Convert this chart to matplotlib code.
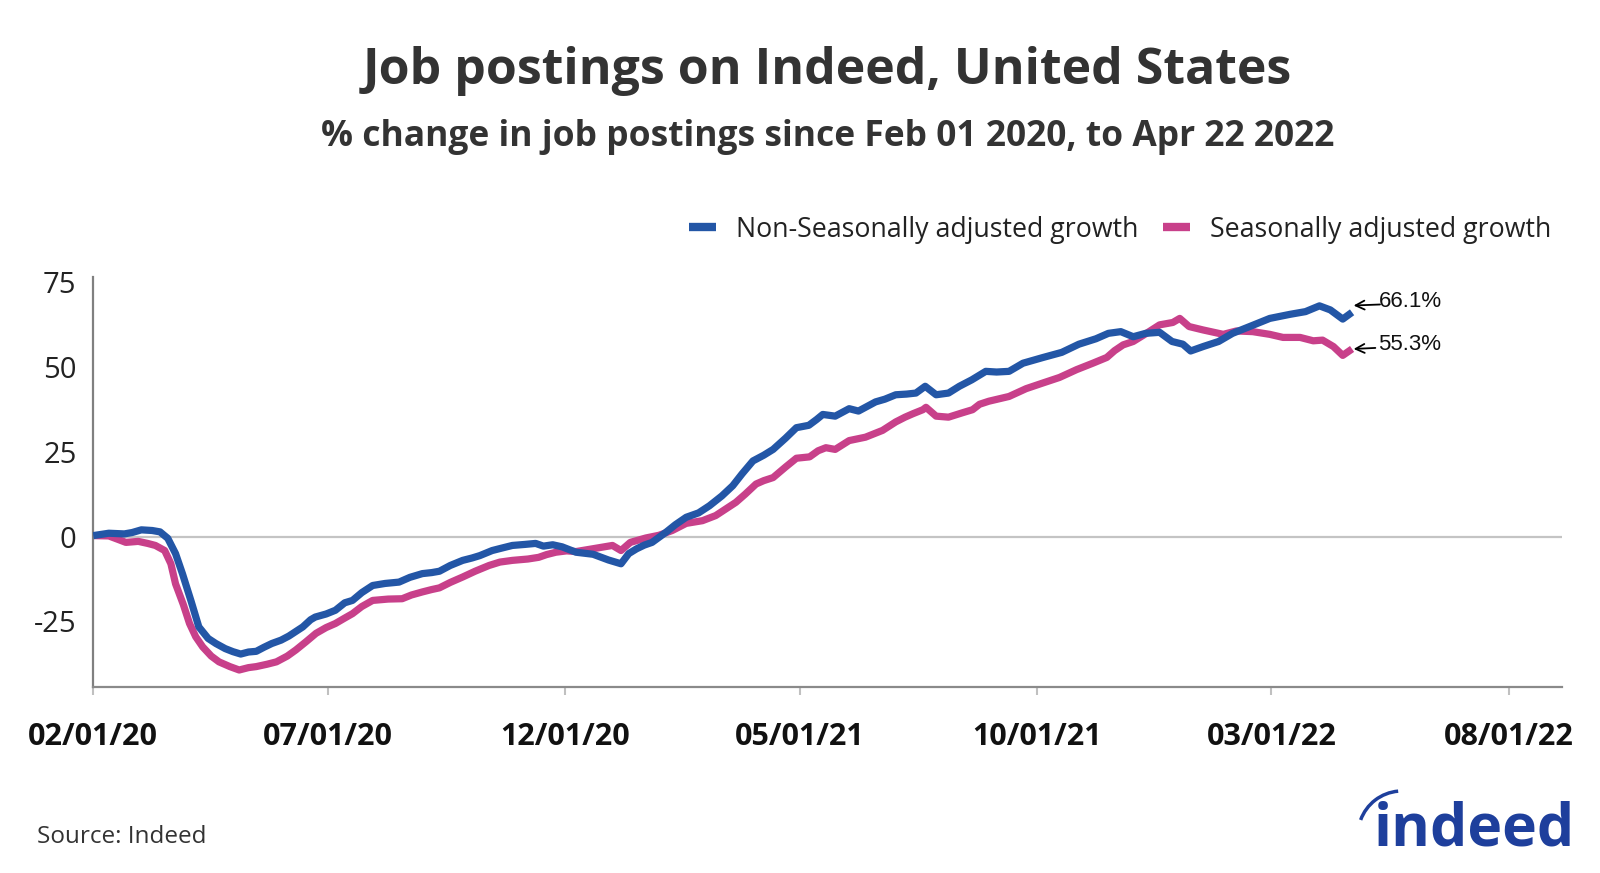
import matplotlib
matplotlib.use("Agg")
import matplotlib.pyplot as plt
from matplotlib.patches import Arc
import pandas as pd

plt.rcParams['font.family'] = ['Open Sans', 'DejaVu Sans']

# days since 2020-02-01
start = pd.Timestamp('2020-02-01')
nsa_days = [0, 10, 20, 25, 31, 38, 43, 48, 53, 57.5, 63, 68, 74, 79, 85, 90, 95, 100, 105, 110,
            115, 121, 126, 135, 140, 143, 150, 156, 162, 167, 173, 180, 188, 197, 204, 212, 218,
            223, 230, 238, 244, 249, 257, 263, 270, 278, 285, 290, 296, 302, 311, 322, 332, 340,
            345, 350, 355, 360, 369, 375, 382, 390, 397, 405, 412, 418, 425, 432, 438, 446, 453,
            461, 466, 470, 478, 487, 493, 504, 510, 517, 524, 530, 536, 543, 551, 558, 566, 575,
            582, 590, 599, 612, 624, 635, 646, 654, 662, 670, 678, 687, 695, 702, 707, 715, 725,
            734, 745, 758, 771, 781, 790, 797, 805, 811]
nsa_vals = [0.3, 1.0, 0.8, 1.2, 2.0, 1.8, 1.4, -0.5, -5, -11, -19, -26.6, -30, -31.5, -33, -33.9,
            -34.6, -34, -33.8, -32.6, -31.5, -30.5, -29.3, -26.6, -24.5, -23.7, -22.8, -21.7,
            -19.5, -18.8, -16.5, -14.4, -13.8, -13.4, -12.0, -10.9, -10.6, -10.2, -8.5, -7.0,
            -6.3, -5.6, -4.1, -3.4, -2.6, -2.3, -2.0, -2.8, -2.4, -3.0, -4.6, -5.2, -6.9, -8.0,
            -5.0, -3.6, -2.5, -1.7, 1.3, 3.5, 5.7, 7.0, 9.1, 12.0, 15.0, 18.5, 22.3, 24.0, 25.7,
            29.0, 32.1, 32.8, 34.5, 36.0, 35.5, 37.7, 37.0, 39.7, 40.5, 41.8, 42.0, 42.3, 44.3,
            41.8, 42.3, 44.3, 46.2, 48.7, 48.5, 48.7, 51.1, 52.8, 54.3, 56.7, 58.3, 59.9, 60.4,
            58.9, 59.9, 60.2, 57.5, 56.7, 54.7, 56.0, 57.5, 59.9, 61.9, 64.3, 65.5, 66.3, 68.0,
            66.8, 64.1, 66.1]

sa_days = [0, 10, 17, 21, 29, 35, 40, 46, 50, 53, 58, 62, 66, 70.5, 76, 81, 88, 94, 100, 105,
           112, 118, 125, 130.5, 137, 143.5, 150, 156, 162, 167, 173, 180, 190, 199, 205, 212,
           218, 223, 230, 238, 246, 255, 262, 270, 280, 287, 292, 298, 305, 311, 321.5, 334.5,
           340, 346, 356, 364.5, 373, 382, 392.5, 401, 407, 414, 420, 427, 432, 438, 446, 453,
           461.5, 467, 472, 478, 487, 497.5, 508.5, 517, 523, 528, 534.5, 536.5, 543, 551, 560,
           566.5, 571, 577, 590, 601, 612, 622.5, 633.5, 644, 653, 658, 663.5, 670, 678.5, 687,
           695.5, 700, 706, 715, 728, 736.5, 747, 758, 766.5, 777.5, 786, 792, 799, 805, 811]
sa_vals = [0.3, 0.2, -1.0, -1.7, -1.4, -2.0, -2.6, -4.1, -8, -13.9, -20, -25.6, -29.5, -32.5,
           -35.2, -36.9, -38.3, -39.3, -38.6, -38.3, -37.6, -36.9, -35.2, -33.4, -31.0, -28.5,
           -26.8, -25.6, -24.0, -22.7, -20.6, -18.8, -18.4, -18.3, -17.2, -16.3, -15.6, -15.1,
           -13.5, -11.9, -10.2, -8.5, -7.5, -7.0, -6.6, -6.1, -5.3, -4.6, -4.2, -4.4, -3.6, -2.6,
           -4.1, -1.7, -0.4, 0.4, 1.8, 3.9, 4.7, 6.2, 8.0, 10.1, 12.5, 15.5, 16.5, 17.4, 20.5,
           23.1, 23.5, 25.3, 26.2, 25.7, 28.3, 29.3, 31.3, 33.8, 35.2, 36.2, 37.4, 38.1, 35.5,
           35.2, 36.5, 37.4, 39.0, 39.9, 41.3, 43.6, 45.3, 46.9, 49.2, 51.1, 52.8, 54.8, 56.5,
           57.5, 59.9, 62.4, 63.1, 64.3, 61.9, 60.9, 59.6, 60.6, 60.4, 59.6, 58.7, 58.7, 57.7,
           57.9, 56.0, 53.4, 55.3]

tick_labels = ['02/01/20', '07/01/20', '12/01/20', '05/01/21', '10/01/21', '03/01/22', '08/01/22']
ytick_vals = [-25, 0, 25, 50, 75]

blue = '#2356a6'
pink = '#c8408a'

nsa_dates = start + pd.to_timedelta(nsa_days, unit='D')
sa_dates = start + pd.to_timedelta(sa_days, unit='D')
tick_dates = [pd.to_datetime(t, format='%m/%d/%y') for t in tick_labels]

fig = plt.figure(figsize=(16, 8.73), dpi=100)
ax = fig.add_axes([0.0583, 0.2131, 0.9177, 0.4696])

ax.axhline(0, color='#c4c4c4', lw=1.6, zorder=1)
ax.plot(nsa_dates, nsa_vals, color=blue, lw=5.2, label='Non-Seasonally adjusted growth',
        solid_capstyle='butt', zorder=3)
ax.plot(sa_dates, sa_vals, color=pink, lw=5.2, label='Seasonally adjusted growth',
        solid_capstyle='butt', zorder=2)

ax.set_xlim(start, pd.Timestamp('2022-09-04'))
ax.set_ylim(-44.3, 76.5)
ax.set_xticks(tick_dates)
ax.set_xticklabels(tick_labels, fontsize=22, fontweight='bold', color='#111111')
ax.set_yticks(ytick_vals)
ax.set_yticklabels([str(v) for v in ytick_vals], fontsize=21, color='#222222')
ax.tick_params(axis='x', length=6, width=1.5, color='#c0c0c0', pad=19)
ax.tick_params(axis='y', length=0, pad=12)

for s in ['top', 'right']:
    ax.spines[s].set_visible(False)
ax.spines['left'].set_color('#808080')
ax.spines['left'].set_linewidth(1.6)
ax.spines['bottom'].set_color('#8a8a8a')
ax.spines['bottom'].set_linewidth(1.6)

# end labels
end = start + pd.Timedelta(days=812)
for val, txt, dy, tail in [(nsa_vals[-1], '66.1%', 2.0, 829), (sa_vals[-1], '55.3%', 0.0, 826)]:
    ax.annotate('', xy=(end, val + dy), xytext=(start + pd.Timedelta(days=tail), val + dy + 0.3),
                arrowprops=dict(arrowstyle='->', color='black', lw=1.3, shrinkA=0, shrinkB=0,
                                mutation_scale=16))
    ax.text(start + pd.Timedelta(days=828), val + dy + 1.3, txt, fontsize=16,
            family='Liberation Sans', va='center', ha='left', color='#111111')

leg = ax.legend(loc='lower right', bbox_to_anchor=(1.0, 1.055), ncol=2, frameon=False,
                fontsize=19.3, handlelength=1.0, handletextpad=0.75, columnspacing=0.9,
                borderaxespad=0)
for line in leg.get_lines():
    line.set_linewidth(6)
for t in leg.get_texts():
    t.set_color('#222222')

xc = 0.0583 + 0.9177 / 2
fig.text(xc, 1 - 71 / 873, 'Job postings on Indeed, United States', ha='center', va='center',
         fontsize=36, fontweight='bold', color='#333333')
fig.text(xc, 1 - 137 / 873, '% change in job postings since Feb 01 2020, to Apr 22 2022',
         ha='center', va='center', fontsize=25.5, fontweight='bold', color='#333333')
fig.text(37 / 1600, 1 - 837 / 873, 'Source: Indeed', ha='left', va='center', fontsize=17.5,
         color='#333333')

# logo
fig.text(1374 / 1600, 1 - 846 / 873, 'indeed', ha='left', va='baseline', fontsize=42.5,
         fontweight='bold', color='#1e3f9c')
fig.add_artist(Arc((1402, 873 - 835), 88, 88, theta1=95, theta2=160, transform=None,
                   color='#1e3f9c', lw=2.5))

fig.savefig('out.png', dpi=100)
